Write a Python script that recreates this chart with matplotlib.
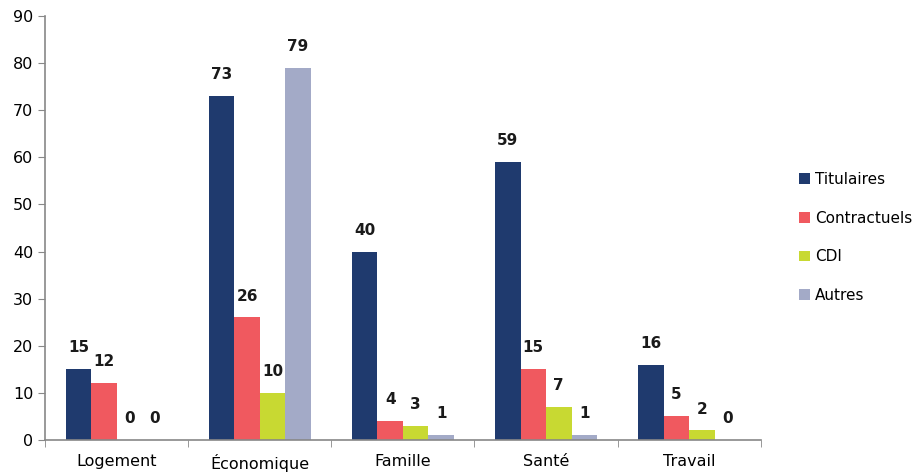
import numpy as np
import matplotlib
matplotlib.use("Agg")
import matplotlib.pyplot as plt

categories = ["Logement", "Économique", "Famille", "Santé", "Travail"]
series = ["Titulaires", "Contractuels", "CDI", "Autres"]
titulaires = [15, 73, 40, 59, 16]
contractuels = [12, 26, 4, 15, 5]
cdi = [0, 10, 3, 7, 2]
autres = [0, 79, 1, 1, 0]
colors = ["#1F3A6E", "#F0595F", "#C8D932", "#A3AAC7"]

plt.rcParams["font.family"] = ["DejaVu Sans"]

fig = plt.figure(figsize=(9.21, 4.75), dpi=100)
ax = fig.add_axes([0.049, 0.074, 0.777, 0.892])

x = np.arange(len(categories))
w = 0.178
data = [titulaires, contractuels, cdi, autres]
for i, (vals, name, col) in enumerate(zip(data, series, colors)):
    pos = x + (i - 1.5) * w
    ax.bar(pos, vals, w, color=col, label=name)
    for xp, v in zip(pos, vals):
        ax.annotate(str(v), (xp, v), xytext=(0, 10), textcoords="offset points",
                    ha="center", va="bottom", fontsize=11, fontweight="bold",
                    color="#1a1a1a")

ax.set_xlim(-0.5, 4.5)
ax.set_ylim(0, 90)
ax.set_yticks(range(0, 91, 10))
ax.set_xticks(x)
ax.set_xticklabels(categories, fontsize=11.5)
ax.set_xticks(np.arange(-0.5, 5, 1), minor=True)
ax.tick_params(axis="x", which="major", length=0, pad=10)
ax.tick_params(axis="x", which="minor", length=5, color="#888888")
ax.tick_params(axis="y", labelsize=11.5, length=5, color="#888888")
for s in ["top", "right"]:
    ax.spines[s].set_visible(False)
for s in ["left", "bottom"]:
    ax.spines[s].set_color("#888888")
    ax.spines[s].set_linewidth(1.2)

fig.legend(loc="center left", bbox_to_anchor=(0.853, 0.5), frameon=False,
           fontsize=11, handlelength=0.7, handleheight=0.7, handletextpad=0.3,
           labelspacing=1.55)

fig.savefig("out.png", dpi=100)
